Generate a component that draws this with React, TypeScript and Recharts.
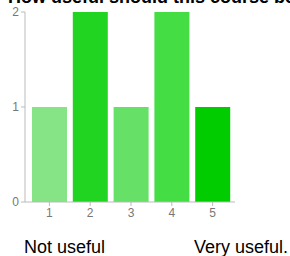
import { BarChart, Bar, XAxis, YAxis, Cell } from "recharts";

const ratings = ["1", "2", "3", "4", "5"];
const counts = [1, 2, 1, 2, 1];
const barColors = ["#86e486", "#22d422", "#66e066", "#44dd44", "#00cc00"];
const yTicks = [0, 1, 2];

const data = ratings.map((rating, i) => ({ rating, count: counts[i] }));

export default function App() {
  return (
    <div
      style={{
        position: "fixed",
        left: 0,
        top: 0,
        width: 290,
        height: 256,
        overflow: "hidden",
        background: "#fff",
        fontFamily: "Arial, 'Liberation Sans', sans-serif",
      }}
    >
      <div
        style={{
          position: "absolute",
          left: 8,
          top: -13,
          fontSize: 18,
          lineHeight: "20px",
          fontWeight: "bold",
          color: "#000",
          whiteSpace: "nowrap",
        }}
      >
        How useful should this course be to you?
      </div>
      <BarChart
        width={290}
        height={222}
        data={data}
        margin={{ top: 12, right: 55, bottom: 0, left: 0 }}
        barCategoryGap={3}
      >
        <XAxis
          dataKey="rating"
          height={20}
          stroke="#bbb"
          tick={{ fill: "#777", fontSize: 12 }}
          tickSize={4}
          padding={{ left: 4, right: 2 }}
        />
        <YAxis
          width={25}
          domain={[0, 2]}
          ticks={yTicks}
          stroke="#bbb"
          tick={{ fill: "#777", fontSize: 12 }}
          tickSize={4}
          tickMargin={2}
        />
        <Bar dataKey="count" isAnimationActive={false}>
          {data.map((d, i) => (
            <Cell key={d.rating} fill={barColors[i]} />
          ))}
        </Bar>
      </BarChart>
      <div
        style={{
          position: "absolute",
          left: 24,
          top: 239,
          fontSize: 18,
          lineHeight: "17px",
          color: "#000",
          whiteSpace: "nowrap",
        }}
      >
        Not useful
      </div>
      <div
        style={{
          position: "absolute",
          left: 194,
          top: 239,
          fontSize: 18,
          lineHeight: "17px",
          color: "#000",
          whiteSpace: "nowrap",
        }}
      >
        Very useful.
      </div>
    </div>
  );
}
